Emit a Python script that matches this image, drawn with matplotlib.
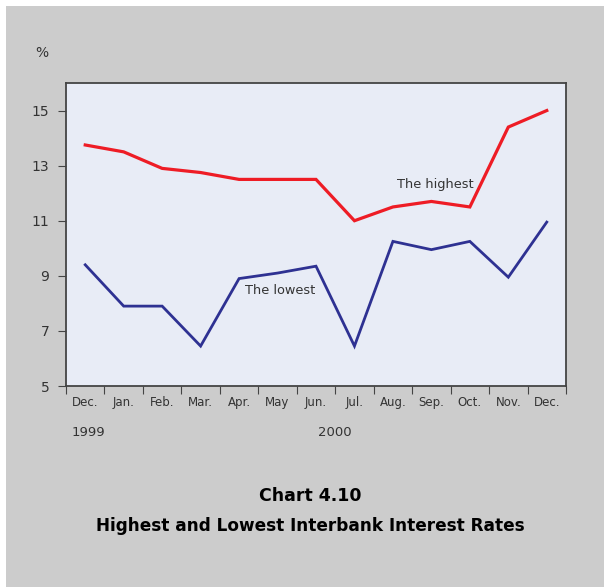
import matplotlib
matplotlib.use("Agg")
import matplotlib.pyplot as plt
from matplotlib.patches import Rectangle

months = ["Dec.", "Jan.", "Feb.", "Mar.", "Apr.", "May", "Jun.",
          "Jul.", "Aug.", "Sep.", "Oct.", "Nov.", "Dec."]
highest = [13.75, 13.5, 12.9, 12.75, 12.5, 12.5, 12.5, 11.0, 11.5, 11.7, 11.5, 14.4, 15.0]
lowest = [9.4, 7.9, 7.9, 6.45, 8.9, 9.1, 9.35, 6.45, 10.25, 9.95, 10.25, 8.95, 10.95]
yticks = [5, 7, 9, 11, 13, 15]

grey = "#cccccc"
txt = "#333333"

fig = plt.figure(figsize=(6.04, 5.87), dpi=100)
fig.set_facecolor("white")
# grey card behind the chart (white strip on left and top)
fig.add_artist(Rectangle((6 / 604, 0), 1, 1 - 6 / 587, transform=fig.transFigure,
                         facecolor=grey, edgecolor="none", zorder=-10))

ax = fig.add_axes([66 / 604, 1 - 386 / 587, 500 / 604, 303 / 587])
ax.set_zorder(1)
ax.set_facecolor("#e8ecf6")
x = list(range(len(months)))
ax.plot(x, highest, color="#ee1c25", lw=2.3, solid_joinstyle="miter")
ax.plot(x, lowest, color="#2e3192", lw=2.0, solid_joinstyle="miter")

ax.set_xlim(-0.5, len(months) - 0.5)
ax.set_ylim(5, 16)
ax.set_yticks(yticks)
ax.set_yticklabels([str(v) for v in yticks], fontsize=10, color=txt)
ax.set_xticks([i - 0.5 for i in range(len(months) + 1)])
ax.set_xticklabels([])
ax.set_xticks(x, minor=True)
ax.set_xticklabels(months, minor=True, fontsize=8.5, color=txt)
ax.tick_params(axis="x", which="major", direction="out", length=6, color="#444444")
ax.tick_params(axis="x", which="minor", length=0, pad=7)
ax.tick_params(axis="y", direction="out", length=6, color="#444444", pad=6)
for s in ax.spines.values():
    s.set_color("#444444")
    s.set_linewidth(1.3)

ax.text(8.1, 12.3, "The highest", fontsize=9.3, color=txt, va="center")
ax.text(4.15, 8.45, "The lowest", fontsize=9.3, color=txt, va="center")

fig.text(42 / 604, 1 - 53 / 587, "%", fontsize=10, color=txt, ha="center", va="center")
fig.text(88 / 604, 1 - 432 / 587, "1999", fontsize=9.5, color=txt, ha="center", va="center")
fig.text(335 / 604, 1 - 432 / 587, "2000", fontsize=9.5, color=txt, ha="center", va="center")
fig.text(310 / 604, 1 - 496 / 587, "Chart 4.10", fontsize=12.5, fontweight="bold",
         color="black", ha="center", va="center")
fig.text(310 / 604, 1 - 526 / 587, "Highest and Lowest Interbank Interest Rates",
         fontsize=12.2, fontweight="bold", color="black", ha="center", va="center")

fig.savefig("out.png", dpi=100, facecolor=fig.get_facecolor())
